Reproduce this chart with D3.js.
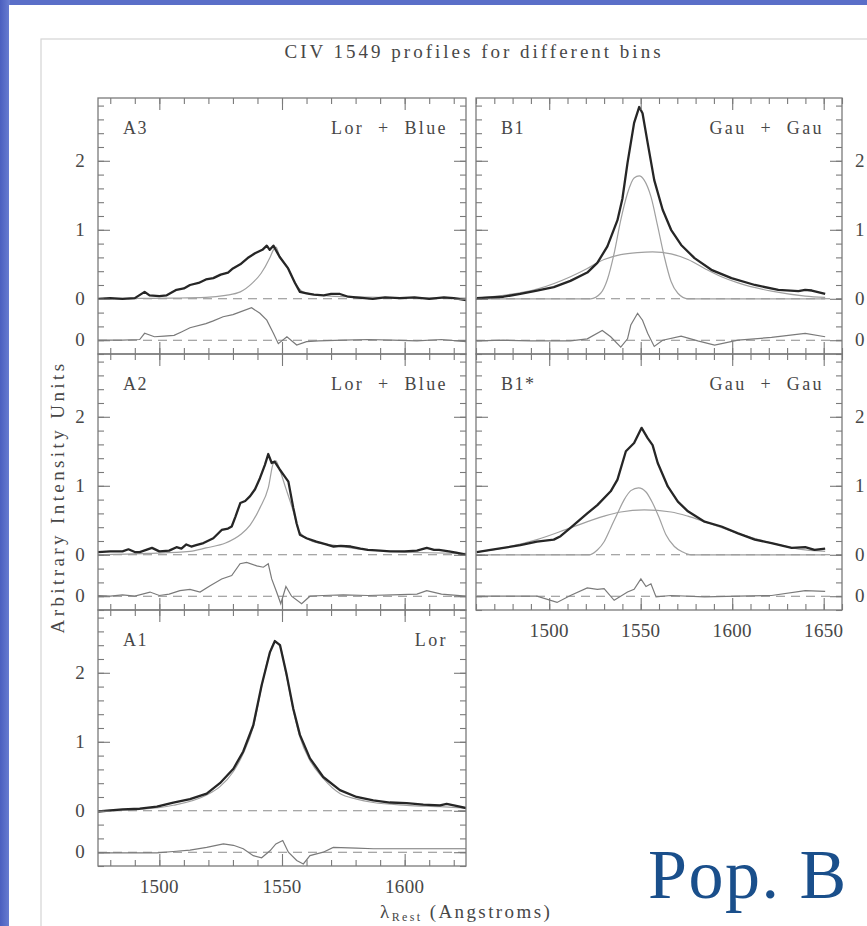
<!DOCTYPE html>
<html>
<head>
<meta charset="utf-8">
<script src="https://cdn.jsdelivr.net/npm/d3@7"></script>
<style>
body { margin: 0; background: #fff; }
svg { display: block; }
text { font-family: "Liberation Serif", "DejaVu Serif", serif; fill: #474747; }
</style>
</head>
<body>
<div id="chart"></div>
<script>
// wavelength (Angstrom), intensity
var a3Data = [[1475,0.0],[1480,0.01],[1485,0.0],[1490,0.01],[1494,0.1],[1496,0.05],[1500,0.04],[1503,0.05],[1507,0.13],[1510,0.15],[1512.5,0.2],[1516,0.23],[1519,0.28],[1522,0.3],[1525,0.35],[1528,0.38],[1530,0.44],[1533,0.5],[1536,0.59],[1539,0.66],[1542,0.71],[1543.8,0.77],[1545,0.71],[1546.5,0.77],[1549,0.61],[1552.5,0.44],[1555.3,0.23],[1557.3,0.1],[1560,0.08],[1563,0.06],[1567,0.05],[1570,0.07],[1573.6,0.07],[1577,0.03],[1580,0.02],[1587,0.0],[1592,0.02],[1598,0.01],[1604,0.02],[1610,0.0],[1616,0.02],[1620,0.01],[1625,-0.02]]
var a3Fit = [[1475,0.0],[1490,0.005],[1505,0.01],[1519,0.02],[1527,0.05],[1533,0.1],[1538,0.23],[1541.5,0.37],[1545,0.59],[1546.5,0.71],[1547.5,0.75],[1549,0.62],[1552.5,0.44],[1555.3,0.23],[1558.5,0.1],[1562,0.07],[1570,0.04],[1580,0.03],[1600,0.015],[1625,0.01]]
var a3Resid = [[1475,0],[1485,0.0],[1492,0.01],[1494,0.1],[1498,0.05],[1502,0.06],[1506,0.07],[1509,0.12],[1512.5,0.18],[1519,0.24],[1522,0.28],[1526,0.34],[1530,0.37],[1533,0.41],[1537.6,0.47],[1541,0.39],[1543.8,0.29],[1546.5,0.1],[1548.5,-0.05],[1552,0.05],[1556,-0.07],[1560,-0.02],[1565,-0.01],[1575,0.0],[1585,0.01],[1595,0.0],[1605,-0.01],[1615,0.01],[1625,-0.02]]

var a2Data = [[1475,0.04],[1480,0.05],[1485,0.05],[1487.4,0.08],[1490,0.04],[1492,0.04],[1497,0.1],[1500,0.05],[1504,0.06],[1507,0.11],[1509,0.09],[1511,0.15],[1513,0.12],[1515,0.14],[1518,0.17],[1522,0.24],[1525.4,0.36],[1528,0.38],[1529.5,0.41],[1531,0.55],[1533,0.75],[1535,0.78],[1537,0.85],[1539,0.95],[1541,1.11],[1543,1.3],[1544.4,1.46],[1545.8,1.33],[1547,1.35],[1549,1.24],[1551,1.14],[1552.6,1.06],[1554.6,0.68],[1556,0.45],[1557.3,0.29],[1560,0.24],[1564,0.19],[1568,0.15],[1571,0.12],[1574,0.13],[1578,0.12],[1582,0.09],[1585,0.07],[1590,0.06],[1594,0.05],[1600,0.05],[1605,0.06],[1609,0.1],[1612,0.07],[1614,0.07],[1618,0.05],[1621,0.03],[1625,0.0]]
var a2Fit = [[1475,0.0],[1495,0.02],[1512.5,0.05],[1519,0.1],[1527,0.17],[1533,0.29],[1537,0.43],[1541,0.68],[1544.4,0.97],[1546.5,1.33],[1547.5,1.36],[1549,1.24],[1551.5,0.97],[1554.6,0.63],[1556.7,0.36],[1558.7,0.27],[1562.8,0.19],[1570.9,0.14],[1580,0.09],[1594,0.05],[1610,0.03],[1625,0.02]]
var a2Resid = [[1475,0.01],[1480,0.0],[1485,0.02],[1490,0.0],[1496.2,0.06],[1500,0.01],[1504,0.03],[1508.4,0.08],[1512.5,0.1],[1516.6,0.06],[1520.7,0.15],[1525.4,0.25],[1529.5,0.3],[1532.9,0.47],[1535.6,0.49],[1539.7,0.44],[1542.4,0.42],[1544.4,0.47],[1545.8,0.25],[1547.8,0.06],[1549.5,-0.11],[1551.6,0.14],[1553.9,0.0],[1558,-0.11],[1561.4,0.0],[1566.8,0.01],[1575,0.02],[1585,0.01],[1595,0.02],[1605,0.03],[1609,0.08],[1615,0.03],[1625,0.0]]

var a1Data = [[1475,-0.01],[1485,0.02],[1492,0.03],[1499,0.06],[1505.7,0.12],[1512.5,0.17],[1519.3,0.25],[1524.7,0.4],[1530.2,0.61],[1534.2,0.86],[1538.3,1.24],[1541.7,1.82],[1545.1,2.3],[1547.1,2.46],[1549.2,2.4],[1551.9,1.97],[1554.6,1.48],[1557.3,1.1],[1561.4,0.76],[1566.8,0.49],[1573.6,0.3],[1580.4,0.2],[1587.2,0.15],[1594,0.12],[1600.8,0.11],[1607.6,0.09],[1614.4,0.08],[1617.1,0.1],[1621,0.07],[1625,0.04]]
var a1Fit = [[1475,0.0],[1492,0.02],[1505.7,0.08],[1519.3,0.23],[1524.7,0.35],[1530.2,0.57],[1534.2,0.83],[1538.3,1.22],[1541.7,1.8],[1545.1,2.3],[1547.1,2.45],[1549.2,2.38],[1551.9,1.94],[1554.6,1.46],[1557.3,1.07],[1561.4,0.73],[1566.8,0.47],[1573.6,0.25],[1580.4,0.17],[1587.2,0.12],[1600.8,0.08],[1614.4,0.06],[1625,0.04]]
var a1Resid = [[1475,-0.01],[1485,-0.01],[1499,-0.01],[1505.7,0.01],[1512.5,0.03],[1519.3,0.07],[1526.1,0.12],[1530.2,0.1],[1534.2,0.05],[1538.3,-0.05],[1541.7,-0.08],[1545.1,0.02],[1547.5,0.12],[1550.3,0.17],[1552.6,0.0],[1556,-0.12],[1558.7,-0.17],[1561.4,-0.05],[1566.8,0.0],[1570.9,0.07],[1580.4,0.06],[1587.2,0.05],[1600,0.05],[1612,0.05],[1625,0.05]]

var b1Data = [[1460.4,0.01],[1468,0.02],[1475,0.03],[1484.2,0.07],[1493.3,0.12],[1502.5,0.17],[1511.6,0.26],[1520.8,0.38],[1526.3,0.52],[1531.8,0.76],[1537.3,1.14],[1540,1.45],[1542.8,1.97],[1546.4,2.55],[1549.2,2.78],[1551,2.69],[1553.8,2.26],[1557.4,1.72],[1562,1.29],[1566.6,1.0],[1572.1,0.78],[1579.4,0.59],[1588.6,0.42],[1599.6,0.3],[1612.4,0.2],[1625.2,0.13],[1636.2,0.11],[1639.9,0.13],[1643.5,0.12],[1650.8,0.07]]
var b1Narrow = [[1460.4,0.0],[1522.6,0.0],[1528.1,0.08],[1531.8,0.28],[1535.5,0.66],[1539.1,1.14],[1542.8,1.53],[1546.4,1.75],[1549.2,1.78],[1551.9,1.72],[1555.6,1.48],[1559.3,1.05],[1562.9,0.61],[1566.6,0.25],[1570.3,0.08],[1575.8,0.0],[1650.8,0.0]]
var b1Broad = [[1460.4,0.01],[1475,0.05],[1493.3,0.14],[1511.6,0.32],[1520.8,0.44],[1530,0.57],[1539.1,0.64],[1548.3,0.67],[1556.5,0.68],[1566.6,0.65],[1575.8,0.57],[1584.9,0.44],[1594.1,0.32],[1603.2,0.23],[1621.5,0.11],[1639.9,0.04],[1650.8,0.02]]
var b1Resid = [[1460.4,-0.01],[1475,0.0],[1490,-0.01],[1511.6,-0.01],[1520.8,0.02],[1529,0.14],[1533.6,0.05],[1539.1,-0.1],[1542.8,0.02],[1544.6,0.22],[1548.3,0.39],[1551,0.29],[1553.8,0.1],[1557.4,-0.09],[1562,0.0],[1572.1,0.06],[1581.2,-0.01],[1590.4,-0.07],[1603.2,0.0],[1621.5,0.04],[1639.9,0.1],[1650.8,0.05]]

var b1sData = [[1460.4,0.04],[1468,0.07],[1475,0.1],[1484.2,0.14],[1493.3,0.19],[1502.5,0.22],[1506.2,0.27],[1511.6,0.39],[1520.8,0.6],[1526.3,0.72],[1533.6,0.92],[1537.3,1.09],[1541.9,1.5],[1546.4,1.62],[1550.5,1.84],[1553.8,1.69],[1556.5,1.59],[1559.3,1.33],[1564.8,0.99],[1570.3,0.77],[1575.8,0.63],[1584.9,0.48],[1594.1,0.41],[1603.2,0.31],[1612.4,0.22],[1621.5,0.17],[1632.5,0.1],[1639.9,0.11],[1645,0.07],[1650.8,0.09]]
var b1sNarrow = [[1460.4,0.0],[1521.7,0.0],[1526.3,0.07],[1530,0.19],[1533.6,0.39],[1537.3,0.6],[1541,0.8],[1544.6,0.93],[1548.8,0.97],[1552.9,0.91],[1556.5,0.75],[1560.2,0.53],[1563.8,0.29],[1568.4,0.12],[1573,0.04],[1577.6,0.0],[1650.8,0.0]]
var b1sBroad = [[1460.4,0.04],[1475,0.1],[1493.3,0.22],[1511.6,0.39],[1530,0.56],[1539.1,0.62],[1551.9,0.65],[1566.6,0.62],[1575.8,0.56],[1584.9,0.48],[1603.2,0.31],[1621.5,0.17],[1639.9,0.07],[1650.8,0.05]]
var b1sResid = [[1460.4,0.0],[1475,0.0],[1493.3,0.0],[1504.3,-0.09],[1511.6,0.01],[1520.8,0.12],[1526.3,0.1],[1530,0.11],[1535.5,-0.06],[1542.8,0.06],[1546.4,0.1],[1550.1,0.25],[1552.9,0.14],[1555.6,0.18],[1558.4,-0.01],[1566.6,0.01],[1584.9,-0.01],[1603.2,0.0],[1621.5,0.01],[1639.9,0.08],[1650.8,0.07]]

var yTickValues = [-0.6, 0, 1, 2]
var yTickLabels = ["0", "0", "1", "2"]
var xTicksLeft = [1500, 1550, 1600]
var xTicksRight = [1500, 1550, 1600, 1650]
var residOffset = -0.6

var panels = [
	{name: "A3", model: "Lor  +  Blue", col: 0, row: 0, data: a3Data, fits: [a3Fit], resid: a3Resid},
	{name: "A2", model: "Lor  +  Blue", col: 0, row: 1, data: a2Data, fits: [a2Fit], resid: a2Resid},
	{name: "A1", model: "Lor", col: 0, row: 2, data: a1Data, fits: [a1Fit], resid: a1Resid, xlabels: true},
	{name: "B1", model: "Gau  +  Gau", col: 1, row: 0, data: b1Data, fits: [b1Narrow, b1Broad], resid: b1Resid},
	{name: "B1*", model: "Gau  +  Gau", col: 1, row: 1, data: b1sData, fits: [b1sNarrow, b1sBroad], resid: b1sResid, xlabels: true}
]

var width = 867, height = 926
var svg = d3.select("#chart").append("svg")
	.attr("width", width)
	.attr("height", height)

// slide background
var defs = svg.append("defs")
var grad = defs.append("linearGradient").attr("id", "edge").attr("x1", 0).attr("x2", 1)
grad.append("stop").attr("offset", "0%").attr("stop-color", "#4b5fbf")
grad.append("stop").attr("offset", "100%").attr("stop-color", "#6a7fd2")
svg.append("rect").attr("width", width).attr("height", height).attr("fill", "#5a6fc8")
svg.append("rect").attr("width", 10).attr("height", height).attr("fill", "url(#edge)")
svg.append("rect").attr("x", 9).attr("y", 5).attr("width", width).attr("height", height).attr("fill", "#fff")
svg.append("rect").attr("x", 41).attr("y", 39).attr("width", width).attr("height", height)
	.attr("fill", "none").attr("stroke", "#d4d4d4").attr("stroke-width", 1.2)

svg.append("text")
	.attr("x", 474).attr("y", 58)
	.attr("text-anchor", "middle")
	.attr("font-size", 19)
	.attr("letter-spacing", 3)
	.text("CIV 1549 profiles for different bins")

var colX = [[98, 466], [476, 842]]
var colDomain = [[1475, 1625], [1460, 1660]]
var rowTop = [98, 354, 610]
var panelH = 256

panels.forEach(function(p, i) {
	var x = d3.scaleLinear().domain(colDomain[p.col]).range(colX[p.col])
	var top = rowTop[p.row]
	var y = d3.scaleLinear().domain([-0.8, 2.91]).range([top + panelH, top])
	var x0 = colX[p.col][0], x1 = colX[p.col][1]

	var clipId = "clip" + i
	defs.append("clipPath").attr("id", clipId)
		.append("rect").attr("x", x0).attr("y", top).attr("width", x1 - x0).attr("height", panelH)

	var g = svg.append("g").attr("clip-path", "url(#" + clipId + ")")

	// zero lines of profile and residual
	g.selectAll(".zero").data([0, residOffset]).enter().append("line")
		.attr("x1", x0).attr("x2", x1)
		.attr("y1", function(d) { return y(d) }).attr("y2", function(d) { return y(d) })
		.attr("stroke", "#8a8a8a").attr("stroke-width", 1.1)
		.attr("stroke-dasharray", "9,6")

	var line = d3.line().x(function(d) { return x(d[0]) }).y(function(d) { return y(d[1]) })
	var smooth = d3.line().x(function(d) { return x(d[0]) }).y(function(d) { return y(d[1]) }).curve(d3.curveMonotoneX)
	var residLine = d3.line().x(function(d) { return x(d[0]) }).y(function(d) { return y(d[1] + residOffset) })

	g.selectAll(".fit").data(p.fits).enter().append("path")
		.attr("d", smooth)
		.attr("fill", "none").attr("stroke", "#a0a0a0").attr("stroke-width", 1.2)

	g.append("path").datum(p.resid)
		.attr("d", residLine)
		.attr("fill", "none").attr("stroke", "#7a7a7a").attr("stroke-width", 1.2)

	g.append("path").datum(p.data)
		.attr("d", line)
		.attr("fill", "none").attr("stroke", "#262626").attr("stroke-width", 2.3)
		.attr("stroke-linejoin", "round")

	// frame
	svg.append("rect").attr("x", x0).attr("y", top).attr("width", x1 - x0).attr("height", panelH)
		.attr("fill", "none").attr("stroke", "#7a7a7a").attr("stroke-width", 1.3)

	// inward ticks, minor then major
	var lo = colDomain[p.col][0], hi = colDomain[p.col][1]
	var xMinor = d3.range(Math.ceil(lo / 10) * 10, hi + 1, 10)
	var xMajor = p.col == 0 ? xTicksLeft : xTicksRight
	var yMinor = d3.range(-4, 15).map(function(k) { return +(k * 0.2).toFixed(1) })

	function ticks(axis, values, size, transform) {
		var a = svg.append("g").attr("transform", transform)
			.call(axis.tickValues(values).tickSize(size).tickFormat(""))
		a.select(".domain").remove()
		a.selectAll("line").attr("stroke", "#7a7a7a").attr("stroke-width", 1.1)
	}
	;[[6, xMinor], [12, xMajor]].forEach(function(t) {
		ticks(d3.axisTop(x), t[1], t[0], "translate(0," + (top + panelH) + ")")
		ticks(d3.axisBottom(x), t[1], t[0], "translate(0," + top + ")")
	})
	;[[6, yMinor], [12, yTickValues]].forEach(function(t) {
		ticks(d3.axisRight(y), t[1], t[0], "translate(" + x0 + ",0)")
		ticks(d3.axisLeft(y), t[1], t[0], "translate(" + x1 + ",0)")
	})

	// y tick labels
	svg.selectAll(".yl" + i).data(yTickValues).enter().append("text")
		.attr("x", p.col == 0 ? 80 : 855)
		.attr("y", function(d) { return y(d) + 6 })
		.attr("text-anchor", p.col == 0 ? "middle" : "start")
		.attr("font-size", 19)
		.text(function(d, k) { return yTickLabels[k] })

	if (p.xlabels) {
		svg.selectAll(".xl" + i).data(xMajor).enter().append("text")
			.attr("x", function(d) { return x(d) })
			.attr("y", top + panelH + 27)
			.attr("text-anchor", "middle")
			.attr("font-size", 19)
			.attr("letter-spacing", 0.3)
			.text(function(d) { return d })
	}

	// panel labels
	svg.append("text").attr("x", x0 + 25).attr("y", top + 36)
		.attr("font-size", 18).attr("letter-spacing", 1.5)
		.text(p.name)
	svg.append("text").attr("x", x1 - 18).attr("y", top + 36)
		.attr("text-anchor", "end")
		.attr("font-size", 18).attr("letter-spacing", 2.4)
		.style("white-space", "pre")
		.text(p.model)
})

svg.append("text")
	.attr("transform", "translate(64,497) rotate(-90)")
	.attr("text-anchor", "middle")
	.attr("font-size", 19).attr("letter-spacing", 3.4)
	.text("Arbitrary Intensity Units")

var xl = svg.append("text").attr("x", 380).attr("y", 918).attr("font-size", 19).attr("letter-spacing", 2.4)
xl.append("tspan").text("λ")
xl.append("tspan").attr("font-size", 12).attr("dy", 3).text("Rest")
xl.append("tspan").attr("dy", -3).style("white-space", "pre").text(" (Angstroms)")

svg.append("text")
	.attr("x", 648).attr("y", 898)
	.attr("font-size", 70)
	.attr("letter-spacing", 1.5)
	.style("fill", "#1a4f8b")
	.text("Pop. B")
</script>
</body>
</html>
